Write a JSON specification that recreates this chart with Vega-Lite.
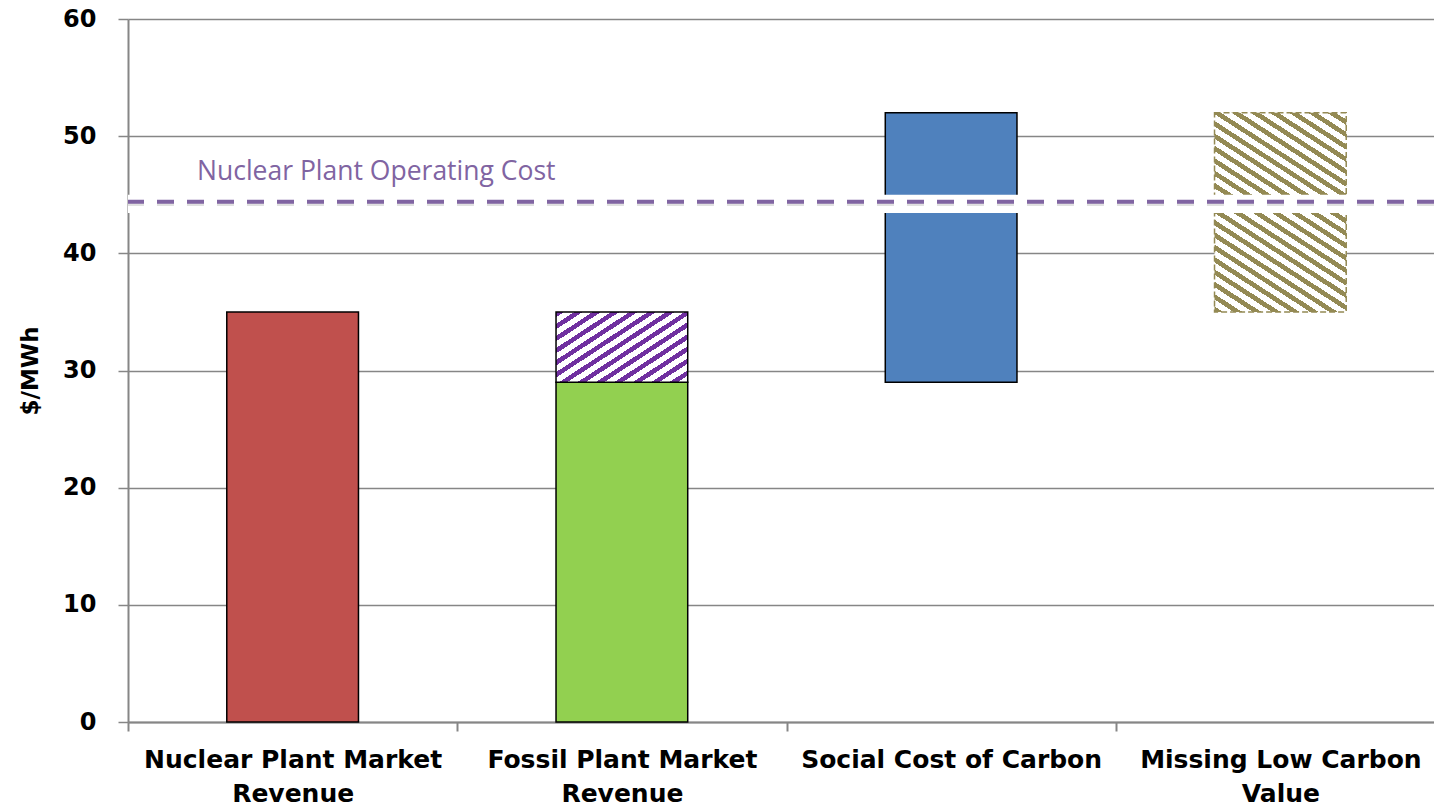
{
  "$schema": "https://vega.github.io/schema/vega-lite/v6.json",
  "width": 1306,
  "height": 703,
  "autosize": {"type": "none"},
  "padding": {"left": 128, "top": 19, "right": 0, "bottom": 87},
  "background": "white",
  "config": {
    "view": {"stroke": null},
    "axis": {"labelFont": "DejaVu Sans", "labelFontWeight": "bold", "labelColor": "#000000", "titleFont": "DejaVu Sans", "titleColor": "#000000"}
  },
  "datasets": {
    "bars": [
      {"category": "Nuclear Plant Market Revenue", "segment": "Nuclear plant market revenue", "pattern": "solid", "low": 0, "high": 35},
      {"category": "Fossil Plant Market Revenue", "segment": "Fossil plant revenue", "pattern": "solid", "low": 0, "high": 29},
      {"category": "Fossil Plant Market Revenue", "segment": "Fossil carbon premium", "pattern": "purple hatch", "low": 29, "high": 35},
      {"category": "Social Cost of Carbon", "segment": "Social cost of carbon", "pattern": "solid", "low": 29, "high": 52},
      {"category": "Missing Low Carbon Value", "segment": "Missing low carbon value", "pattern": "olive hatch", "low": 35, "high": 52}
    ],
    "ref": [
      {"category": "Nuclear Plant Market Revenue", "label": "Nuclear Plant Operating Cost", "cost": 44.4, "shadow": 44.2, "gapLow": 43.45, "gapHigh": 45.0}
    ]
  },
  "layer": [
    {
      "data": {"name": "bars"},
      "transform": [{"filter": "datum.pattern == 'solid'"}],
      "mark": {"type": "bar", "width": {"band": 0.4}, "stroke": "#000000", "strokeWidth": 1.5},
      "encoding": {
        "x": {
          "field": "category", "type": "nominal",
          "scale": {"domain": ["Nuclear Plant Market Revenue", "Fossil Plant Market Revenue", "Social Cost of Carbon", "Missing Low Carbon Value"], "range": [0, 1317], "paddingInner": 0, "paddingOuter": 0},
          "axis": {
            "title": null, "grid": false, "domainColor": "#868686", "domainWidth": 2,
            "tickBand": "extent", "tickColor": "#868686", "tickWidth": 2, "tickSize": 9,
            "labelFontSize": 25, "labelPadding": 16, "labelLimit": 0, "labelAngle": 0, "labelLineHeight": 34,
            "labelExpr": "datum.label == 'Social Cost of Carbon' ? datum.label : [substring(datum.label, 0, lastindexof(datum.label, ' ')), substring(datum.label, lastindexof(datum.label, ' ') + 1)]"
          }
        },
        "y": {
          "field": "low", "type": "quantitative",
          "scale": {"domain": [0, 60], "nice": false},
          "axis": {
            "title": "$/MWh", "values": [0, 10, 20, 30, 40, 50, 60], "grid": true, "gridColor": "#868686", "gridWidth": 1.3,
            "domainColor": "#868686", "domainWidth": 2, "tickColor": "#868686", "tickWidth": 1.5, "tickSize": 10,
            "labelFontSize": 24, "labelPadding": 22, "titleFontSize": 23, "titleFontWeight": "bold", "titlePadding": 20
          }
        },
        "y2": {"field": "high"},
        "color": {
          "field": "segment", "type": "nominal", "legend": null,
          "scale": {"domain": ["Nuclear plant market revenue", "Fossil plant revenue", "Social cost of carbon"], "range": ["#C0504D", "#92D050", "#4F81BD"]}
        }
      }
    },
    {
      "data": {"name": "bars"},
      "transform": [{"filter": "datum.pattern == 'purple hatch'"}],
      "mark": {
        "type": "bar", "width": {"band": 0.4}, "stroke": "#000000", "strokeWidth": 1.5,
        "fill": {"gradient": "linear", "x1": 0, "y1": 0, "x2": 1.09, "y2": 0.889, "stops": [
          {"offset": 0, "color": "#7030A0"}, {"offset": 0.03462, "color": "#7030A0"}, {"offset": 0.03462, "color": "#ffffff"}, {"offset": 0.07692, "color": "#ffffff"},
          {"offset": 0.07692, "color": "#7030A0"}, {"offset": 0.11154, "color": "#7030A0"}, {"offset": 0.11154, "color": "#ffffff"}, {"offset": 0.15385, "color": "#ffffff"},
          {"offset": 0.15385, "color": "#7030A0"}, {"offset": 0.18846, "color": "#7030A0"}, {"offset": 0.18846, "color": "#ffffff"}, {"offset": 0.23077, "color": "#ffffff"},
          {"offset": 0.23077, "color": "#7030A0"}, {"offset": 0.26538, "color": "#7030A0"}, {"offset": 0.26538, "color": "#ffffff"}, {"offset": 0.30769, "color": "#ffffff"},
          {"offset": 0.30769, "color": "#7030A0"}, {"offset": 0.34231, "color": "#7030A0"}, {"offset": 0.34231, "color": "#ffffff"}, {"offset": 0.38462, "color": "#ffffff"},
          {"offset": 0.38462, "color": "#7030A0"}, {"offset": 0.41923, "color": "#7030A0"}, {"offset": 0.41923, "color": "#ffffff"}, {"offset": 0.46154, "color": "#ffffff"},
          {"offset": 0.46154, "color": "#7030A0"}, {"offset": 0.49615, "color": "#7030A0"}, {"offset": 0.49615, "color": "#ffffff"}, {"offset": 0.53846, "color": "#ffffff"},
          {"offset": 0.53846, "color": "#7030A0"}, {"offset": 0.57308, "color": "#7030A0"}, {"offset": 0.57308, "color": "#ffffff"}, {"offset": 0.61538, "color": "#ffffff"},
          {"offset": 0.61538, "color": "#7030A0"}, {"offset": 0.65, "color": "#7030A0"}, {"offset": 0.65, "color": "#ffffff"}, {"offset": 0.69231, "color": "#ffffff"},
          {"offset": 0.69231, "color": "#7030A0"}, {"offset": 0.72692, "color": "#7030A0"}, {"offset": 0.72692, "color": "#ffffff"}, {"offset": 0.76923, "color": "#ffffff"},
          {"offset": 0.76923, "color": "#7030A0"}, {"offset": 0.80385, "color": "#7030A0"}, {"offset": 0.80385, "color": "#ffffff"}, {"offset": 0.84615, "color": "#ffffff"},
          {"offset": 0.84615, "color": "#7030A0"}, {"offset": 0.88077, "color": "#7030A0"}, {"offset": 0.88077, "color": "#ffffff"}, {"offset": 0.92308, "color": "#ffffff"},
          {"offset": 0.92308, "color": "#7030A0"}, {"offset": 0.95769, "color": "#7030A0"}, {"offset": 0.95769, "color": "#ffffff"}, {"offset": 1, "color": "#ffffff"}
        ]}
      },
      "encoding": {
        "x": {"field": "category", "type": "nominal"},
        "y": {"field": "low", "type": "quantitative"},
        "y2": {"field": "high"}
      }
    },
    {
      "data": {"name": "bars"},
      "transform": [{"filter": "datum.pattern == 'olive hatch'"}],
      "mark": {
        "type": "bar", "width": {"band": 0.4}, "stroke": "#948A54", "strokeWidth": 1.5, "strokeDash": [6, 3],
        "fill": {"gradient": "linear", "x1": 0, "y1": 1, "x2": 0.5164, "y2": -0.2068, "stops": [
          {"offset": 0, "color": "#948A54"}, {"offset": 0.01957, "color": "#948A54"}, {"offset": 0.01957, "color": "#ffffff"}, {"offset": 0.04348, "color": "#ffffff"},
          {"offset": 0.04348, "color": "#948A54"}, {"offset": 0.06304, "color": "#948A54"}, {"offset": 0.06304, "color": "#ffffff"}, {"offset": 0.08696, "color": "#ffffff"},
          {"offset": 0.08696, "color": "#948A54"}, {"offset": 0.10652, "color": "#948A54"}, {"offset": 0.10652, "color": "#ffffff"}, {"offset": 0.13043, "color": "#ffffff"},
          {"offset": 0.13043, "color": "#948A54"}, {"offset": 0.15, "color": "#948A54"}, {"offset": 0.15, "color": "#ffffff"}, {"offset": 0.17391, "color": "#ffffff"},
          {"offset": 0.17391, "color": "#948A54"}, {"offset": 0.19348, "color": "#948A54"}, {"offset": 0.19348, "color": "#ffffff"}, {"offset": 0.21739, "color": "#ffffff"},
          {"offset": 0.21739, "color": "#948A54"}, {"offset": 0.23696, "color": "#948A54"}, {"offset": 0.23696, "color": "#ffffff"}, {"offset": 0.26087, "color": "#ffffff"},
          {"offset": 0.26087, "color": "#948A54"}, {"offset": 0.28043, "color": "#948A54"}, {"offset": 0.28043, "color": "#ffffff"}, {"offset": 0.30435, "color": "#ffffff"},
          {"offset": 0.30435, "color": "#948A54"}, {"offset": 0.32391, "color": "#948A54"}, {"offset": 0.32391, "color": "#ffffff"}, {"offset": 0.34783, "color": "#ffffff"},
          {"offset": 0.34783, "color": "#948A54"}, {"offset": 0.36739, "color": "#948A54"}, {"offset": 0.36739, "color": "#ffffff"}, {"offset": 0.3913, "color": "#ffffff"},
          {"offset": 0.3913, "color": "#948A54"}, {"offset": 0.41087, "color": "#948A54"}, {"offset": 0.41087, "color": "#ffffff"}, {"offset": 0.43478, "color": "#ffffff"},
          {"offset": 0.43478, "color": "#948A54"}, {"offset": 0.45435, "color": "#948A54"}, {"offset": 0.45435, "color": "#ffffff"}, {"offset": 0.47826, "color": "#ffffff"},
          {"offset": 0.47826, "color": "#948A54"}, {"offset": 0.49783, "color": "#948A54"}, {"offset": 0.49783, "color": "#ffffff"}, {"offset": 0.52174, "color": "#ffffff"},
          {"offset": 0.52174, "color": "#948A54"}, {"offset": 0.5413, "color": "#948A54"}, {"offset": 0.5413, "color": "#ffffff"}, {"offset": 0.56522, "color": "#ffffff"},
          {"offset": 0.56522, "color": "#948A54"}, {"offset": 0.58478, "color": "#948A54"}, {"offset": 0.58478, "color": "#ffffff"}, {"offset": 0.6087, "color": "#ffffff"},
          {"offset": 0.6087, "color": "#948A54"}, {"offset": 0.62826, "color": "#948A54"}, {"offset": 0.62826, "color": "#ffffff"}, {"offset": 0.65217, "color": "#ffffff"},
          {"offset": 0.65217, "color": "#948A54"}, {"offset": 0.67174, "color": "#948A54"}, {"offset": 0.67174, "color": "#ffffff"}, {"offset": 0.69565, "color": "#ffffff"},
          {"offset": 0.69565, "color": "#948A54"}, {"offset": 0.71522, "color": "#948A54"}, {"offset": 0.71522, "color": "#ffffff"}, {"offset": 0.73913, "color": "#ffffff"},
          {"offset": 0.73913, "color": "#948A54"}, {"offset": 0.7587, "color": "#948A54"}, {"offset": 0.7587, "color": "#ffffff"}, {"offset": 0.78261, "color": "#ffffff"},
          {"offset": 0.78261, "color": "#948A54"}, {"offset": 0.80217, "color": "#948A54"}, {"offset": 0.80217, "color": "#ffffff"}, {"offset": 0.82609, "color": "#ffffff"},
          {"offset": 0.82609, "color": "#948A54"}, {"offset": 0.84565, "color": "#948A54"}, {"offset": 0.84565, "color": "#ffffff"}, {"offset": 0.86957, "color": "#ffffff"},
          {"offset": 0.86957, "color": "#948A54"}, {"offset": 0.88913, "color": "#948A54"}, {"offset": 0.88913, "color": "#ffffff"}, {"offset": 0.91304, "color": "#ffffff"},
          {"offset": 0.91304, "color": "#948A54"}, {"offset": 0.93261, "color": "#948A54"}, {"offset": 0.93261, "color": "#ffffff"}, {"offset": 0.95652, "color": "#ffffff"},
          {"offset": 0.95652, "color": "#948A54"}, {"offset": 0.97609, "color": "#948A54"}, {"offset": 0.97609, "color": "#ffffff"}, {"offset": 1, "color": "#ffffff"}
        ]}
      },
      "encoding": {
        "x": {"field": "category", "type": "nominal"},
        "y": {"field": "low", "type": "quantitative"},
        "y2": {"field": "high"}
      }
    },
    {
      "data": {"name": "ref"},
      "mark": {"type": "rect", "fill": "#ffffff"},
      "encoding": {
        "y": {"field": "gapLow", "type": "quantitative"},
        "y2": {"field": "gapHigh"}
      }
    },
    {
      "data": {"name": "ref"},
      "mark": {"type": "rule", "stroke": "#000000", "opacity": 0.12, "strokeWidth": 4, "strokeDash": [17, 13]},
      "encoding": {
        "y": {"field": "shadow", "type": "quantitative"}
      }
    },
    {
      "data": {"name": "ref"},
      "mark": {"type": "rule", "stroke": "#8064A2", "strokeWidth": 4, "strokeDash": [17, 13]},
      "encoding": {
        "y": {"field": "cost", "type": "quantitative"}
      }
    },
    {
      "data": {"name": "ref"},
      "mark": {"type": "text", "align": "left", "baseline": "alphabetic", "dx": 69, "dy": -22, "font": "Open Sans", "fontSize": 26.5, "color": "#8064A2"},
      "encoding": {
        "x": {"field": "category", "type": "nominal", "bandPosition": 0},
        "y": {"field": "cost", "type": "quantitative"},
        "text": {"field": "label"}
      }
    }
  ]
}
